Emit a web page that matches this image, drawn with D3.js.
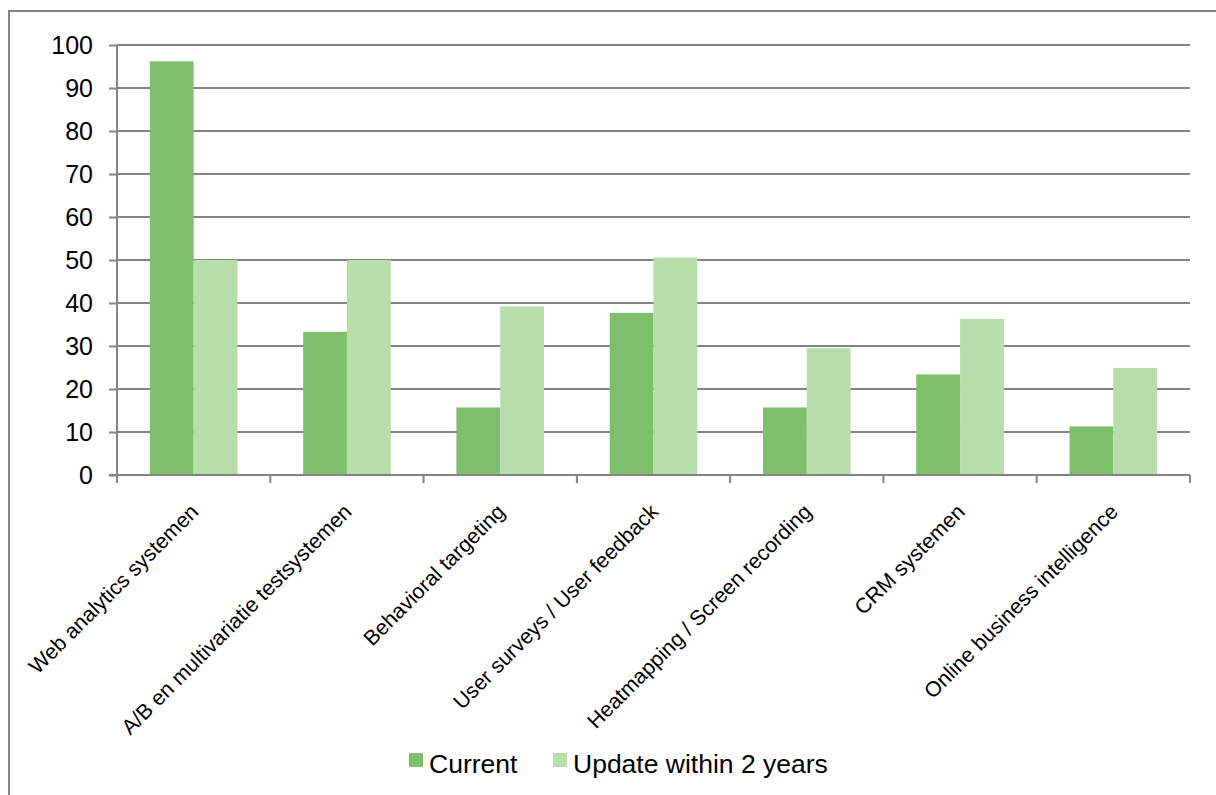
<!DOCTYPE html>
<html>
<head>
<meta charset="utf-8">
<script src="https://cdn.jsdelivr.net/npm/d3@7"></script>
<style>
  html, body { margin: 0; padding: 0; background: #fff; }
  svg { display: block; }
  text { font-family: "Liberation Sans", Arial, sans-serif; fill: #000; }
</style>
</head>
<body>
<svg id="chart" width="1216" height="795"></svg>
<script>
// Tool usage: currently in use vs. planned update within two years (%)
const categories = [
  "Web analytics systemen",
  "A/B en multivariatie testsystemen",
  "Behavioral targeting",
  "User surveys / User feedback",
  "Heatmapping / Screen recording",
  "CRM systemen",
  "Online business intelligence"
];
const currentValues = [96.2, 33.3, 15.7, 37.7, 15.7, 23.4, 11.3];
const updateValues  = [50.0, 50.0, 39.2, 50.6, 29.5, 36.3, 24.9];
const seriesNames = ["Current", "Update within 2 years"];
const seriesColors = ["#7fbe6b", "#b7ddaa"];
const yTicks = [0, 10, 20, 30, 40, 50, 60, 70, 80, 90, 100];

const svg = d3.select("#chart");
const gridColor = "#848484";

// outer chart frame
svg.append("rect")
  .attr("x", 9).attr("y", 11)
  .attr("width", 1240).attr("height", 820)
  .attr("fill", "none")
  .attr("stroke", gridColor)
  .attr("stroke-width", 2);

const plot = { left: 117, right: 1190, top: 45, bottom: 475 };

const x = d3.scaleBand()
  .domain(categories)
  .range([plot.left, plot.right])
  .paddingInner(0).paddingOuter(0);

const y = d3.scaleLinear().domain([0, 100]).range([plot.bottom, plot.top]);

// gap width 150%: each band holds two bars plus 1.5 bar widths of gap
const barW = x.bandwidth() / 3.5;
const gap = barW * 0.75;

// y tick marks and labels
const yAxis = d3.axisLeft(y)
  .tickValues(yTicks)
  .tickSize(8)
  .tickPadding(16)
  .tickFormat(d3.format("d"));

const gy = svg.append("g")
  .attr("transform", `translate(${plot.left},0)`)
  .call(yAxis);
gy.select(".domain").remove();
gy.selectAll(".tick line").attr("stroke", gridColor).attr("stroke-width", 2);
gy.selectAll(".tick text")
  .style("font-size", "25px")
  .style("font-family", "'Liberation Sans', Arial, sans-serif")
  .attr("fill", "#000");

// horizontal gridlines
svg.append("g")
  .selectAll("line")
  .data(yTicks.filter(d => d > 0))
  .join("line")
  .attr("x1", plot.left).attr("x2", plot.right)
  .attr("y1", d => y(d)).attr("y2", d => y(d))
  .attr("stroke", gridColor).attr("stroke-width", 2);

// bars
const series = [currentValues, updateValues];
const barsG = svg.append("g");
series.forEach((vals, si) => {
  barsG.selectAll(null)
    .data(categories)
    .join("rect")
    .attr("x", (c) => x(c) + gap + si * barW)
    .attr("width", barW)
    .attr("y", (c, i) => y(vals[i]))
    .attr("height", (c, i) => y(0) - y(vals[i]))
    .attr("fill", seriesColors[si]);
});

// y axis line
svg.append("line")
  .attr("x1", plot.left).attr("x2", plot.left)
  .attr("y1", plot.top).attr("y2", plot.bottom)
  .attr("stroke", gridColor).attr("stroke-width", 2);

// x axis baseline and category boundary ticks
svg.append("line")
  .attr("x1", plot.left - 8).attr("x2", plot.right)
  .attr("y1", plot.bottom).attr("y2", plot.bottom)
  .attr("stroke", gridColor).attr("stroke-width", 2);

const boundaries = categories.map(c => x(c)).concat([plot.right]);
svg.append("g")
  .selectAll("line")
  .data(boundaries)
  .join("line")
  .attr("x1", d => d).attr("x2", d => d)
  .attr("y1", plot.bottom).attr("y2", plot.bottom + 8)
  .attr("stroke", gridColor).attr("stroke-width", 2);

// rotated category labels
svg.append("g")
  .selectAll("text")
  .data(categories)
  .join("text")
  .attr("transform", c => `translate(${x(c) + x.bandwidth() / 2 + 6},${plot.bottom + 38}) rotate(-45)`)
  .attr("text-anchor", "end")
  .style("font-size", "21.3px")
  .text(c => c);

// legend
const legend = [
  { name: seriesNames[0], color: seriesColors[0], sx: 409, tx: 429 },
  { name: seriesNames[1], color: seriesColors[1], sx: 553, tx: 573 }
];
const lg = svg.append("g");
legend.forEach(l => {
  lg.append("rect")
    .attr("x", l.sx).attr("y", 753)
    .attr("width", 14).attr("height", 14)
    .attr("fill", l.color);
  lg.append("text")
    .attr("x", l.tx).attr("y", 772.5)
    .style("font-size", "26.5px")
    .text(l.name);
});
</script>
</body>
</html>
